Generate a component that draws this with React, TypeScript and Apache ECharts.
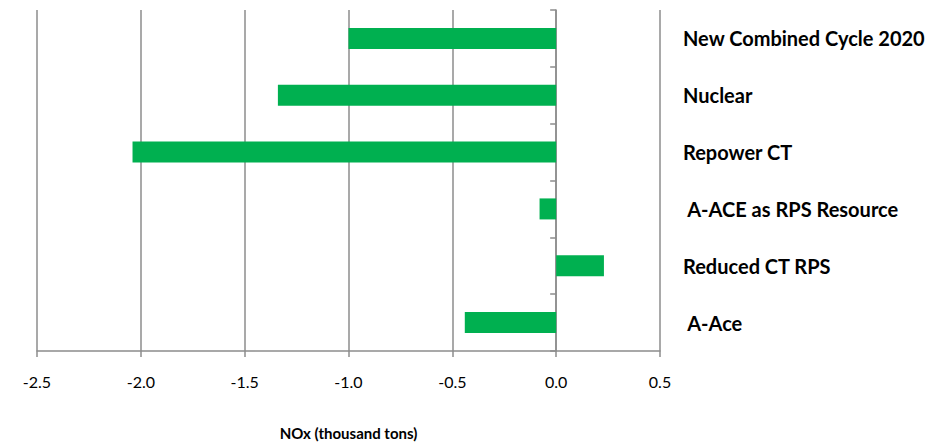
import React, { useEffect, useRef } from "react";
import * as echarts from "echarts";

const categories = [
  "New Combined Cycle 2020",
  "Nuclear",
  "Repower CT",
  " A-ACE as RPS Resource",
  "Reduced CT RPS",
  " A-Ace",
];
const noxValues = [-1.0, -1.34, -2.04, -0.08, 0.23, -0.44];
const xTicks = { min: -2.5, max: 0.5, interval: 0.5 };
const xAxisTitle = "NOx (thousand tons)";

export default function App() {
  const ref = useRef<HTMLDivElement>(null);
  useEffect(() => {
    document.body.style.margin = "0";
    if (!ref.current) return;
    const chart = echarts.init(ref.current, undefined, { renderer: "svg" });
    const font = "Lato, 'Open Sans', sans-serif";
    chart.setOption({
      animation: false,
      backgroundColor: "#ffffff",
      grid: { left: 37, right: 271, top: 10, bottom: 87, containLabel: false },
      xAxis: {
        type: "value",
        min: xTicks.min,
        max: xTicks.max,
        interval: xTicks.interval,
        axisLine: { show: true, onZero: false, lineStyle: { color: "#8c8c8c", width: 1.5 } },
        axisTick: { show: true, length: 6, lineStyle: { color: "#8c8c8c", width: 1.5 } },
        splitLine: { show: true, lineStyle: { color: "#8c8c8c", width: 1.5 } },
        axisLabel: {
          color: "#000",
          fontFamily: font,
          fontSize: 16,
          margin: 22,
          formatter: (v: number) => v.toFixed(1),
        },
        name: xAxisTitle,
        nameLocation: "middle",
        nameGap: 74,
        nameTextStyle: { color: "#000", fontFamily: font, fontSize: 15, fontWeight: "bold" },
      },
      yAxis: [
        {
          type: "category",
          data: categories,
          inverse: true,
          axisLine: { show: true, onZero: true, lineStyle: { color: "#8c8c8c", width: 1.5 } },
          axisTick: { show: true, length: 6, lineStyle: { color: "#8c8c8c", width: 1.5 } },
          axisLabel: { show: false },
          splitLine: { show: false },
        },
        {
          type: "category",
          data: categories,
          inverse: true,
          position: "right",
          axisLine: { show: false, onZero: false },
          axisTick: { show: false },
          splitLine: { show: false },
          axisLabel: {
            show: true,
            inside: false,
            margin: 23,
            align: "left",
            color: "#000",
            fontFamily: font,
            fontSize: 20,
            fontWeight: "bold",
          },
        },
      ],
      series: [
        {
          type: "bar",
          data: noxValues,
          yAxisIndex: 0,
          barWidth: 21,
          itemStyle: { color: "#00B050" },
        },
      ],
    });
    return () => chart.dispose();
  }, []);
  return <div ref={ref} style={{ width: 931, height: 445 }} />;
}
